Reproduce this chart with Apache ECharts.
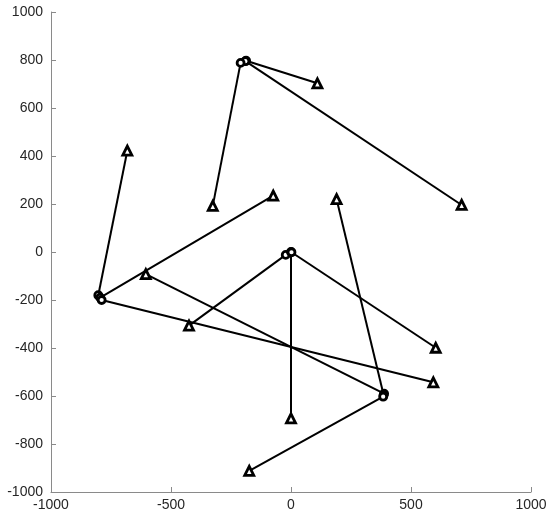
<!DOCTYPE html>
<html>
<head>
<meta charset="utf-8">
<script src="https://cdn.jsdelivr.net/npm/echarts@6/dist/echarts.min.js"></script>
<style>html,body{margin:0;padding:0;background:#fff}#c{width:550px;height:517px}</style>
</head>
<body>
<div id="c"></div>
<script>
// Segment start points (circles)
const startX = [-187, -190, -210, -803, -795, -789, -22, 0, 2, 388, 386, 384];
const startY = [797, 795, 788, -180, -190, -200, -12, 0, -1, -590, -596, -603];
// Segment end points (triangles)
const endX = [110, 711, -326, -682, -74, 593, -425, 0, 603, -605, 190, -174];
const endY = [703, 196, 192, 422, 235, -543, -307, -693, -399, -92, 220, -912];
const xTicks = [-1000, -500, 0, 500, 1000];
const yTicks = [-1000, -800, -600, -400, -200, 0, 200, 400, 600, 800, 1000];

const series = startX.map((sx, i) => ({
  type: 'line',
  data: [
    {value: [sx, startY[i]], symbol: 'circle', symbolSize: 7},
    {value: [endX[i], endY[i]], symbol: 'triangle', symbolSize: 9}
  ],
  lineStyle: {color: '#000', width: 2},
  itemStyle: {color: '#fff', borderColor: '#000', borderWidth: 2.8},
  showAllSymbol: true,
  animation: false,
  z: 2
}));

const fmt = v => String(v);
const axisCommon = {
  splitLine: {show: false},
  axisLine: {show: true, onZero: false, lineStyle: {color: '#8a8a8a', width: 1}},
  axisTick: {show: true, inside: true, length: 5, lineStyle: {color: '#8a8a8a'}},
  axisLabel: {color: '#262626', fontFamily: 'Liberation Sans, Arial, sans-serif', fontSize: 14, formatter: fmt}
};

const chart = echarts.init(document.getElementById('c'), null, {renderer: 'canvas'});
chart.setOption({
  animation: false,
  grid: {left: 51, right: 19, top: 12, bottom: 25, containLabel: false},
  xAxis: Object.assign({type: 'value', min: xTicks[0], max: xTicks[xTicks.length-1], interval: 500}, axisCommon,
    {axisLabel: Object.assign({}, axisCommon.axisLabel, {margin: 6})}),
  yAxis: Object.assign({type: 'value', min: yTicks[0], max: yTicks[yTicks.length-1], interval: 200}, axisCommon,
    {axisLabel: Object.assign({}, axisCommon.axisLabel, {margin: 8})}),
  series: series
});
</script>
</body>
</html>
